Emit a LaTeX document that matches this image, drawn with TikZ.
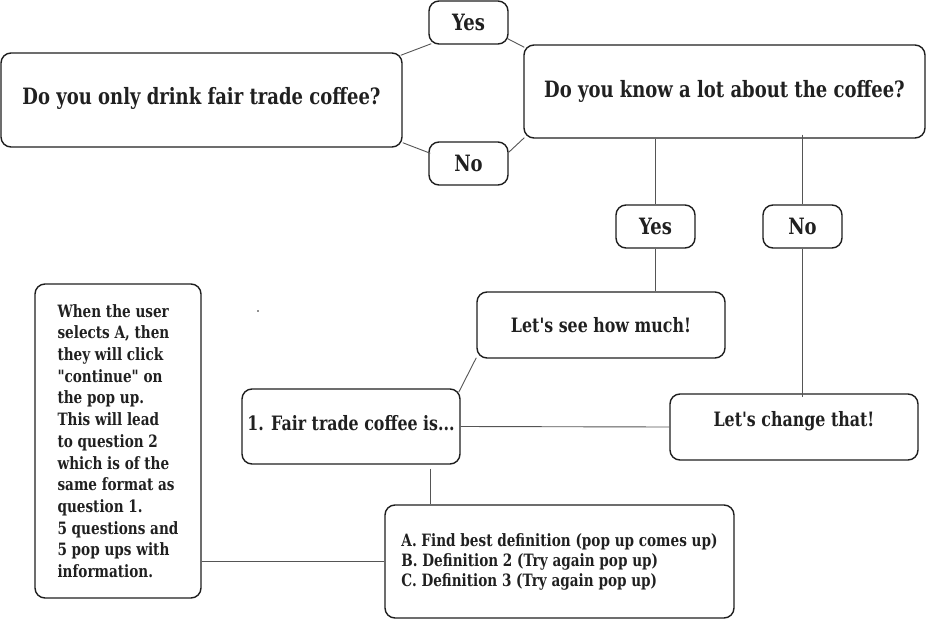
\documentclass[tikz,border=0pt]{standalone}
\usepackage{fontspec}
\setmainfont{DejaVu Serif}[FakeStretch=0.8,Ligatures=TeXOff]
\definecolor{boxc}{HTML}{1E1E1E}
\definecolor{linec}{HTML}{555555}
\definecolor{txtc}{HTML}{202020}
\begin{document}
\begin{tikzpicture}[x=1pt,y=-1pt,
  box/.style={draw=boxc, line width=1.4pt, rounded corners=10pt, text=txtc, inner sep=0pt},
  big/.style={font=\bfseries\fontsize{22.5}{26}\selectfont},
  mid/.style={font=\bfseries\fontsize{19.8}{23}\selectfont},
  conn/.style={draw=linec, line width=0.9pt}]
\useasboundingbox (0,0) rectangle (927,643);
% top row
\node[box,big,minimum width=401pt,minimum height=94pt,text depth=9pt] (q1) at (201.5,100) {Do you only drink fair trade coffee?};
\node[box,big,minimum width=79pt,minimum height=43pt] (y1) at (468.5,22.5) {Yes};
\node[box,big,minimum width=79pt,minimum height=43pt] (n1) at (468.5,163.5) {No};
\node[box,big,minimum width=401pt,minimum height=93pt] (q2) at (724.5,91.5) {Do you know a lot about the coffee?};
% second row
\node[box,big,minimum width=79pt,minimum height=43pt] (y2) at (655.5,226.5) {Yes};
\node[box,big,minimum width=79pt,minimum height=43pt] (n2) at (802.5,226.5) {No};
\node[box,mid,minimum width=248pt,minimum height=66pt] (ls) at (601,325) {Let's see how much!};
\node[box,mid,minimum width=248pt,minimum height=66pt,text depth=16pt] (lc) at (794,427) {Let's change that!};
\node[box,mid,minimum width=218pt,minimum height=75pt,text depth=7pt] (fair) at (351,426.5) {1. Fair trade coffee is...};
\node[box,minimum width=349pt,minimum height=113pt,align=left,font=\bfseries\fontsize{17}{20}\selectfont] (opts) at (559.5,561.5)
  {A. Find best definition (pop up comes up)\\B. Definition 2 (Try again pop up)\\C. Definition 3 (Try again pop up)};
\node[box,minimum width=166pt,minimum height=314pt,align=left,font=\bfseries\fontsize{17}{21.7}\selectfont] (note) at (118,441)
  {When the user\\selects A, then\\they will click\\"continue" on\\the pop up.\\This will lead\\to question 2\\which is of the\\same format as\\question 1.\\5 questions and\\5 pop ups with\\information.};
\fill[txtc] (258,311) circle (0.9pt);
% connectors
\draw[conn] ([shift={(-2,3)}]q1.north east) -- ([shift={(3,-1)}]y1.south west);
\draw[conn] ([shift={(-1,-6)}]y1.south east) -- ([shift={(1,3)}]q2.north west);
\draw[conn] ([shift={(0,-5)}]q1.south east) -- ([shift={(2,12)}]n1.north west);
\draw[conn] ([shift={(0,11)}]n1.north east) -- ([shift={(1,-1)}]q2.south west);
\draw[conn] (y2.north |- q2.south) -- (y2.north);
\draw[conn] ([yshift=4]n2.north |- q2.south) -- (n2.north);
\draw[conn] (y2.south) -- (y2.south |- ls.north);
\draw[conn] (n2.south) -- ([yshift=-4]n2.south |- lc.north);
\draw[conn] ([shift={(0,-1)}]ls.south west) -- ([shift={(-2,4)}]fair.north east);
\draw[conn] (fair.east) -- (lc.west);
\draw[conn] ([shift={(79,4)}]fair.south) -- ([xshift=79]fair.south |- opts.north);
\draw[conn] (opts.west -| note.east) -- (opts.west);
\end{tikzpicture}
\end{document}
